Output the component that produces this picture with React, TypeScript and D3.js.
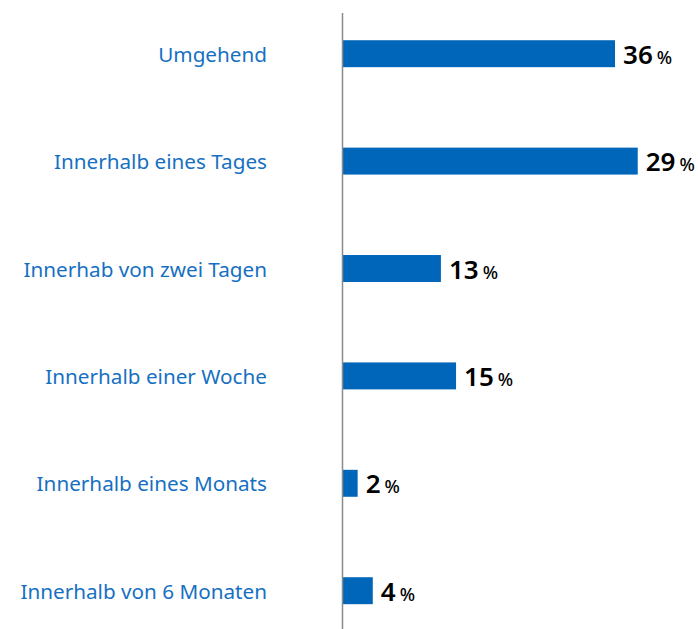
import * as d3 from "d3";

const WIDTH = 698;
const HEIGHT = 629;
const AXIS_X = 342.5;

const categories = [
  "Umgehend",
  "Innerhalb eines Tages",
  "Innerhab von zwei Tagen",
  "Innerhalb einer Woche",
  "Innerhalb eines Monats",
  "Innerhalb von 6 Monaten",
];
// bar lengths as drawn in the source (the "Tages" bar is drawn longer than its label says)
const barValues = [36, 39, 13, 15, 2, 4];
const valueLabels = ["36", "29", "13", "15", "2", "4"];

const BAR_COLOR = "#0066b9";
const LABEL_COLOR = "#1670c2";

export default function App() {
  const yScale = d3
    .scaleBand<string>()
    .domain(categories)
    .range([0, 644.4])
    .paddingInner(0.749)
    .paddingOuter(0.3745);

  const xScale = d3.scaleLinear().domain([0, 40]).range([AXIS_X, AXIS_X + 302.8]);

  const bw = yScale.bandwidth();

  return (
    <div style={{ position: "absolute", left: 0, top: 0 }}>
      <svg width={WIDTH} height={HEIGHT} style={{ display: "block" }}>
        {categories.map((c, i) => {
          const y = yScale(c) ?? 0;
          const cy = y + bw / 2;
          const xEnd = xScale(barValues[i]);
          return (
            <g key={c}>
              <text
                x={267}
                y={cy + 8}
                textAnchor="end"
                fontFamily="'Noto Sans', sans-serif"
                fontSize={20.7}
                fill={LABEL_COLOR}
              >
                {c}
              </text>
              <rect x={xScale(0)} y={y} width={xEnd - xScale(0)} height={bw} fill={BAR_COLOR} />
              <text
                x={xEnd + 8}
                y={cy + 10}
                fontFamily="'Noto Sans', sans-serif"
                fill="#000"
              >
                <tspan fontSize={26} fontWeight={600}>
                  {valueLabels[i]}
                </tspan>
                <tspan fontSize={18} fontWeight={500} dx={4}>
                  %
                </tspan>
              </text>
            </g>
          );
        })}
        <line x1={AXIS_X} x2={AXIS_X} y1={13} y2={HEIGHT} stroke="#8a8a8a" strokeWidth={1.5} />
      </svg>
    </div>
  );
}
